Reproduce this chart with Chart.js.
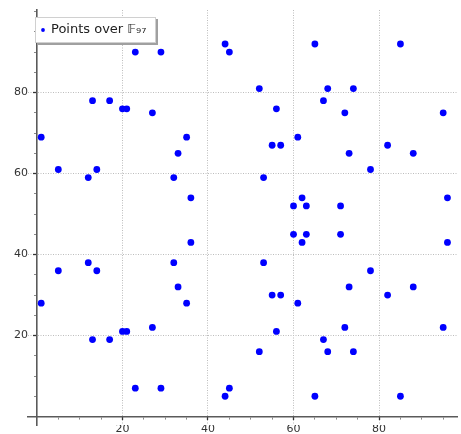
<!DOCTYPE html>
<html>
<head>
<meta charset="utf-8">
<script src="https://cdn.jsdelivr.net/npm/chart.js@4/dist/chart.umd.min.js"></script>
<style>
  html, body { margin: 0; padding: 0; background: #ffffff; }
  #wrap { position: relative; width: 461px; height: 434px; }
</style>
</head>
<body>
<div id="wrap"><canvas id="c"></canvas></div>
<script>
// ---- data (points of an elliptic curve over F_97) ----
const pointX = [1, 1, 5, 5, 12, 12, 13, 13, 14, 14, 17, 17, 20, 20, 21, 21, 23, 23, 27, 27,
                29, 29, 32, 32, 33, 33, 35, 35, 36, 36, 44, 44, 45, 45, 52, 52, 53, 53, 55, 55,
                56, 56, 57, 57, 60, 60, 61, 61, 62, 62, 63, 63, 65, 65, 67, 67, 68, 68, 71, 71,
                72, 72, 73, 73, 74, 74, 78, 78, 82, 82, 85, 85, 88, 88, 95, 95, 96, 96];
const pointY = [69, 28, 61, 36, 59, 38, 78, 19, 61, 36, 78, 19, 76, 21, 76, 21, 90, 7, 75, 22,
                90, 7, 59, 38, 65, 32, 69, 28, 54, 43, 92, 5, 90, 7, 81, 16, 59, 38, 67, 30,
                76, 21, 67, 30, 52, 45, 69, 28, 54, 43, 52, 45, 92, 5, 78, 19, 81, 16, 52, 45,
                75, 22, 65, 32, 81, 16, 61, 36, 67, 30, 92, 5, 65, 32, 75, 22, 54, 43];
const seriesLabel = 'Points over 𝔽₉₇';
const tickValues = [20, 40, 60, 80];
const tickLabels = ['20', '40', '60', '80'];

const XMIN = -2.09, XMAX = 98.37;
const YMIN = -2.1, YMAX = 100.4;

const FONT = "'DejaVu Sans', 'Liberation Sans', sans-serif";
const AXIS = '#5a5a5a';
const GRID = '#bdbdbd';
const CLEAR = 'rgba(0,0,0,0)';

const isMajor = (c) => c && c.tick && tickValues.includes(c.tick.value);
const labelFor = (v) => { const i = tickValues.indexOf(v); return i >= 0 ? tickLabels[i] : ''; };

const data = pointX.map((x, i) => ({ x: x, y: pointY[i] }));

const legendBox = {
  id: 'legendBox',
  afterDraw(chart) {
    const ctx = chart.ctx;
    const ds = chart.data.datasets[0];
    const x = 35, y = 17, w = 121, h = 26;
    ctx.save();
    // shadow
    ctx.fillStyle = '#a0a0a0';
    ctx.fillRect(x + 2, y + 2, w, h);
    // frame
    ctx.fillStyle = '#ffffff';
    ctx.fillRect(x, y, w, h);
    ctx.strokeStyle = '#d0d0d0';
    ctx.lineWidth = 1;
    ctx.strokeRect(x + 0.5, y + 0.5, w - 1, h - 1);
    // marker
    ctx.fillStyle = ds.backgroundColor;
    ctx.beginPath();
    ctx.arc(x + 8, y + 13, 1.9, 0, Math.PI * 2);
    ctx.fill();
    // text
    ctx.fillStyle = '#222222';
    ctx.font = '13px ' + FONT;
    ctx.textBaseline = 'middle';
    ctx.textAlign = 'left';
    ctx.fillText(ds.label, x + 16, y + 13);
    ctx.restore();
  }
};

new Chart(document.getElementById('c'), {
  type: 'scatter',
  data: {
    datasets: [{
      label: seriesLabel,
      data: data,
      backgroundColor: '#0000ff',
      borderColor: '#0000ff',
      borderWidth: 0,
      pointRadius: 3.4,
      pointHoverRadius: 3.4,
      xAxisID: 'x',
      yAxisID: 'y'
    }]
  },
  options: {
    responsive: true,
    maintainAspectRatio: false,
    animation: false,
    events: [],
    layout: { padding: { top: 10, right: 1, bottom: 0, left: 0 } },
    plugins: { legend: { display: false }, tooltip: { enabled: false } },
    scales: {
      x: {
        type: 'linear', position: { y: 0 }, min: XMIN, max: XMAX,
        ticks: { display: false, stepSize: 5, includeBounds: false, autoSkip: false },
        grid: { display: true, drawOnChartArea: false, drawTicks: true, tickLength: 2,
                tickColor: '#8a8a8a', tickWidth: 1 },
        border: { display: true, color: AXIS, width: 1.6 }
      },
      xMajor: {
        type: 'linear', axis: 'x', position: { y: 0 }, min: XMIN, max: XMAX,
        ticks: { display: false, stepSize: 20, includeBounds: false, autoSkip: false },
        grid: { display: true, drawOnChartArea: true, drawTicks: true, tickLength: 4,
                color: (c) => isMajor(c) ? GRID : CLEAR, lineWidth: 1,
                tickColor: (c) => isMajor(c) ? '#333333' : CLEAR, tickWidth: 1.3 },
        border: { display: false, dash: [1, 1.5] }
      },
      xl: {
        type: 'linear', axis: 'x', position: 'bottom', min: XMIN, max: XMAX,
        ticks: { stepSize: 20, includeBounds: false, autoSkip: false, maxRotation: 0,
                 padding: -1, color: '#333333',
                 font: { family: FONT, size: 11, lineHeight: 1 },
                 callback: (v) => labelFor(v) },
        grid: { display: false, drawTicks: false },
        border: { display: false },
        afterFit: (s) => { s.height = 9; }
      },
      y: {
        type: 'linear', position: { x: 0 }, min: YMIN, max: YMAX,
        ticks: { display: false, stepSize: 5, includeBounds: false, autoSkip: false },
        grid: { display: true, drawOnChartArea: false, drawTicks: true, tickLength: 2,
                tickColor: '#8a8a8a', tickWidth: 1 },
        border: { display: true, color: AXIS, width: 1.6 }
      },
      yMajor: {
        type: 'linear', axis: 'y', position: { x: 0 }, min: YMIN, max: YMAX,
        ticks: { display: false, stepSize: 20, includeBounds: false, autoSkip: false },
        grid: { display: true, drawOnChartArea: true, drawTicks: true, tickLength: 4,
                color: (c) => isMajor(c) ? GRID : CLEAR, lineWidth: 1,
                tickColor: (c) => isMajor(c) ? '#333333' : CLEAR, tickWidth: 1.3 },
        border: { display: false, dash: [1, 1.5] }
      },
      yl: {
        type: 'linear', axis: 'y', position: 'left', min: YMIN, max: YMAX,
        ticks: { stepSize: 20, includeBounds: false, autoSkip: false, padding: 0,
                 color: '#333333', font: { family: FONT, size: 11 },
                 callback: (v) => labelFor(v) },
        grid: { display: false, drawTicks: false },
        border: { display: false },
        afterFit: (s) => { s.width = 28; }
      }
    }
  },
  plugins: [legendBox]
});
</script>
</body>
</html>
